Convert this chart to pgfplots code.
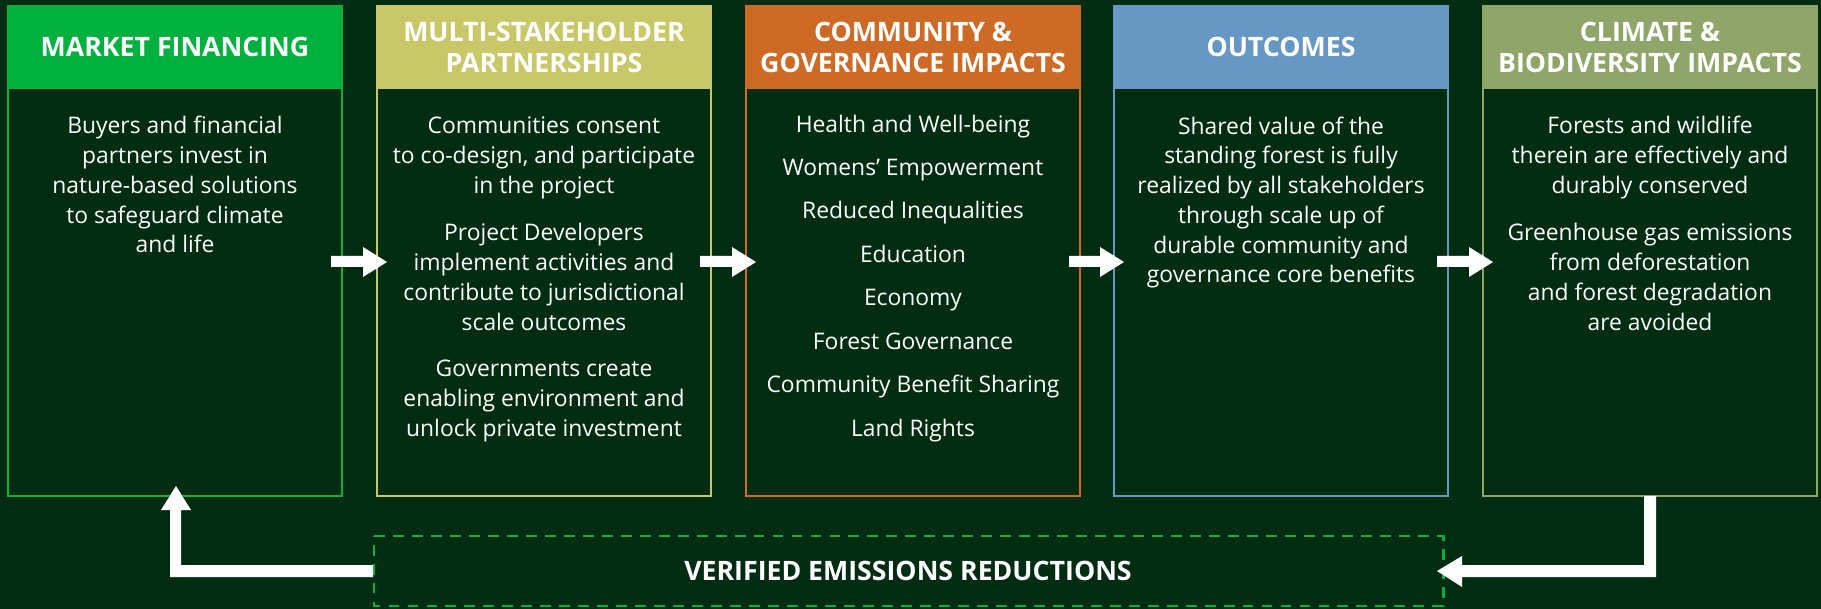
\documentclass[border=0pt]{standalone}
\usepackage{pgfplots}
\pgfplotsset{compat=1.18}
\usepackage{fontspec}
\setmainfont{Open Sans}
\definecolor{bg}{RGB}{0,45,18}
\definecolor{cA}{RGB}{0,177,64}
\definecolor{cB}{RGB}{201,200,105}
\definecolor{cC}{RGB}{204,106,38}
\definecolor{cD}{RGB}{103,152,195}
\definecolor{cE}{RGB}{143,165,106}
% nodes are anchored at the baseline of their LAST line
\tikzset{
    lbl/.style={text=white, align=center, anchor=base, inner sep=0pt},
    head/.style={lbl, font=\fontsize{7.6}{9.1}\selectfont\bfseries},
    body/.style={lbl, font=\fontsize{6.5}{8.47}\selectfont},
}
\begin{document}
\begin{tikzpicture}
\begin{axis}[
    scale only axis,
    width=18.21cm, height=6.09cm,
    xmin=0, xmax=1821, ymin=0, ymax=609,
    y dir=reverse,
    hide axis,
    clip=false,
]
% background
\addplot[fill=bg, draw=none] coordinates {(0,0)(1821,0)(1821,609)(0,609)} -- cycle;

% header bands
\addplot[fill=cA, draw=none] coordinates {(8,6)(342,6)(342,89)(8,89)} -- cycle;
\addplot[fill=cB, draw=none] coordinates {(377,6)(711,6)(711,89)(377,89)} -- cycle;
\addplot[fill=cC, draw=none] coordinates {(746,6)(1080,6)(1080,89)(746,89)} -- cycle;
\addplot[fill=cD, draw=none] coordinates {(1114,6)(1448,6)(1448,89)(1114,89)} -- cycle;
\addplot[fill=cE, draw=none] coordinates {(1483,6)(1817,6)(1817,89)(1483,89)} -- cycle;

% box outlines
\addplot[draw=cA, line width=0.75pt] coordinates {(8,6)(342,6)(342,496)(8,496)} -- cycle;
\addplot[draw=cB, line width=0.75pt] coordinates {(377,6)(711,6)(711,496)(377,496)} -- cycle;
\addplot[draw=cC, line width=0.75pt] coordinates {(746,6)(1080,6)(1080,496)(746,496)} -- cycle;
\addplot[draw=cD, line width=0.75pt] coordinates {(1114,6)(1448,6)(1448,496)(1114,496)} -- cycle;
\addplot[draw=cE, line width=0.75pt] coordinates {(1483,6)(1817,6)(1817,496)(1483,496)} -- cycle;

% dashed box
\addplot[draw=cA, line width=0.85pt, dash pattern=on 3.1pt off 2.3pt] coordinates {(374,536)(1443,536)(1443,606)(374,606)} -- cycle;

% arrows between boxes
\addplot[fill=white, draw=none] coordinates {(331,256)(363,256)(363,247)(387,262)(363,277)(363,267)(331,267)} -- cycle;
\addplot[fill=white, draw=none] coordinates {(700,256)(732,256)(732,247)(756,262)(732,277)(732,267)(700,267)} -- cycle;
\addplot[fill=white, draw=none] coordinates {(1069,256)(1100,256)(1100,247)(1124,262)(1100,277)(1100,267)(1069,267)} -- cycle;
\addplot[fill=white, draw=none] coordinates {(1437,256)(1469,256)(1469,247)(1493,262)(1469,277)(1469,267)(1437,267)} -- cycle;

% return arrows
\addplot[fill=white, draw=none] coordinates {(373,565)(181,565)(181,510)(191,510)(176,486)(161,510)(170,510)(170,577)(373,577)} -- cycle;
\addplot[fill=white, draw=none] coordinates {(1644,496)(1656,496)(1656,577)(1462,577)(1462,587)(1437,571)(1462,556)(1462,565)(1644,565)} -- cycle;

% headers
\node[head] at (axis cs:175,57) {MARKET FINANCING};
\node[head] at (axis cs:544,73) {MULTI-STAKEHOLDER\\PARTNERSHIPS};
\node[head] at (axis cs:913,73) {COMMUNITY \&\\GOVERNANCE IMPACTS};
\node[head] at (axis cs:1281,57) {OUTCOMES};
\node[head] at (axis cs:1650,73) {CLIMATE \&\\BIODIVERSITY IMPACTS};
\node[head] at (axis cs:908,580) {VERIFIED EMISSIONS REDUCTIONS};

% body text
\node[body] at (axis cs:175,253) {Buyers and financial\\partners invest in\\nature-based solutions\\to safeguard climate\\and life};
\node[body] at (axis cs:544,193.5) {Communities consent\\to co-design, and participate\\in the project};
\node[body] at (axis cs:544,330) {Project Developers\\implement activities and\\contribute to jurisdictional\\scale outcomes};
\node[body] at (axis cs:544,436.5) {Governments create\\enabling environment and\\unlock private investment};
\node[lbl, font=\fontsize{6.5}{12.35}\selectfont] at (axis cs:913,436) {Health and Well-being\\Womens’ Empowerment\\Reduced Inequalities\\Education\\Economy\\Forest Governance\\Community Benefit Sharing\\Land Rights};
\node[body] at (axis cs:1281,283) {Shared value of the\\standing forest is fully\\realized by all stakeholders\\through scale up of\\durable community and\\governance core benefits};
\node[body] at (axis cs:1650,193.5) {Forests and wildlife\\therein are effectively and\\durably conserved};
\node[body] at (axis cs:1650,330) {Greenhouse gas emissions\\from deforestation\\and forest degradation\\are avoided};
\end{axis}
\end{tikzpicture}
\end{document}
